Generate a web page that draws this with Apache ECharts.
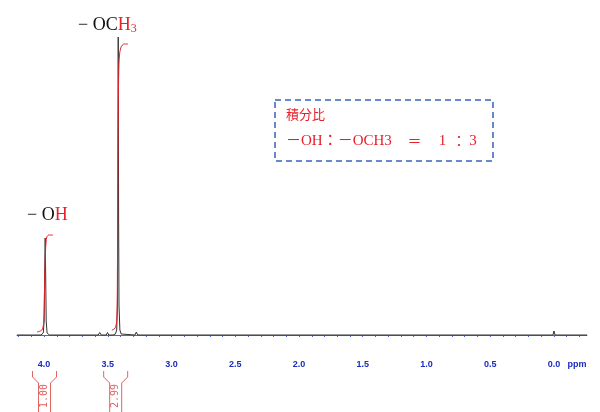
<!DOCTYPE html>
<html><head><meta charset="utf-8">
<script src="https://cdn.jsdelivr.net/npm/echarts@6/dist/echarts.min.js"></script>
<style>html,body{margin:0;padding:0;background:#fff}#c{width:600px;height:412px}</style>
</head><body><div id="c"></div>
<script>
// ---- data ----
const specPpm = [4.212, 4.024, 4.006, 3.999, 3.995, 3.991, 3.987, 3.983, 3.976, 3.958,
  3.575, 3.563, 3.551, 3.512, 3.502, 3.492, 3.46, 3.44, 3.43, 3.424, 3.421, 3.418, 3.415, 3.412, 3.405, 3.395, 3.38,
  3.287, 3.276, 3.265, 0.008, 0.0, -0.008, -0.259];
const specInt = [0, 0, 2, 14, 60, 97, 60, 14, 2, 0,
  0, 2.5, 0, 0, 2.5, 0, 0, 1, 5, 30, 120, 298, 120, 30, 5, 1, 0,
  0, 3, 0, 0, 4, 0, 0];

const ohIntPpm = [4.055, 4.03, 4.012, 4.002, 3.996, 3.99, 3.984, 3.978, 3.97, 3.958, 3.93];
const ohIntVal = [3, 4, 6, 15, 45, 78, 93, 98, 99.5, 100, 100];

const meIntPpm = [3.468, 3.45, 3.436, 3.428, 3.424, 3.421, 3.418, 3.414, 3.408, 3.398, 3.385, 3.37, 3.342];
const meIntVal = [5, 6, 9, 20, 70, 150, 220, 262, 280, 287, 290, 291, 291];

const tickValues = [4.0, 3.5, 3.0, 2.5, 2.0, 1.5, 1.0, 0.5, 0.0];
const tickLabels = ['4.0', '3.5', '3.0', '2.5', '2.0', '1.5', '1.0', '0.5', '0.0'];
const unitPos = -0.18, unitLabel = 'ppm';

const integralCenters = [3.996, 3.438];
const integralLabels = ['1.00', '2.99'];

// ---- chart ----
const minorTicks = [];
for (let i = 42; i >= -2; i--) minorTicks.push(i / 10);

const pair = (xs, ys) => xs.map((x, i) => [x, ys[i]]);
const AX = '#4f63d8';
const RED = '#e8202a';

const chart = echarts.init(document.getElementById('c'));
chart.setOption({
  animation: false,
  backgroundColor: '#fff',
  grid: { left: 17, right: 13, top: 35, bottom: 57, containLabel: false },
  xAxis: {
    type: 'value', inverse: true, min: -0.259, max: 4.212,
    axisLine: { show: true, lineStyle: { color: AX, width: 1 } },
    axisTick: { show: true, customValues: minorTicks, length: 2, lineStyle: { color: AX } },
    axisLabel: {
      customValues: tickValues.concat([unitPos]),
      formatter: v => {
        if (Math.abs(v - unitPos) < 1e-6) return unitLabel;
        const i = tickValues.findIndex(t => Math.abs(t - v) < 1e-6);
        return i >= 0 ? tickLabels[i] : '';
      },
      color: '#1a2bbf', fontSize: 9, fontWeight: 'bold', margin: 5, fontFamily: 'Liberation Sans'
    },
    splitLine: { show: false }
  },
  yAxis: { type: 'value', min: -20, max: 300, show: false },
  series: [
    { type: 'line', data: pair(specPpm, specInt), showSymbol: false, z: 2,
      lineStyle: { color: '#333', width: 1 } },
    { type: 'line', data: pair(ohIntPpm, ohIntVal), showSymbol: false, smooth: 0.4, z: 3,
      lineStyle: { color: RED, width: 1 } },
    { type: 'line', data: pair(meIntPpm, meIntVal), showSymbol: false, smooth: 0.4, z: 3,
      lineStyle: { color: RED, width: 1 } }
  ]
});

// ---- annotations ----
const serif = "'Liberation Serif', 'DejaVu Serif', serif";
const g = [
  { type: 'text', x: 27, y: 215, style: {
      text: '{k|− O}{r|H}', verticalAlign: 'middle',
      rich: { k: { fill: '#111', fontSize: 18, fontFamily: serif }, r: { fill: RED, fontSize: 18, fontFamily: serif } } } },
  { type: 'text', x: 78, y: 25, style: {
      text: '{k|− OC}{r|H}{s|3}', verticalAlign: 'middle',
      rich: { k: { fill: '#111', fontSize: 18, fontFamily: serif, lineHeight: 20 },
              r: { fill: RED, fontSize: 18, fontFamily: serif, lineHeight: 20 },
              s: { fill: RED, fontSize: 12, fontFamily: serif, lineHeight: 12, verticalAlign: 'bottom' } } } },
  { type: 'rect', shape: { x: 275, y: 100, width: 218, height: 61 },
    style: { fill: 'none', stroke: '#3a62c0', lineWidth: 1.5, lineDash: [6, 4] } },
  { type: 'text', x: 286, y: 114, style: { text: '積分比', fill: RED, fontSize: 13, verticalAlign: 'middle',
      fontFamily: "'Noto Sans CJK JP'" } },
  { type: 'text', x: 286, y: 141, style: { text: '－OH：－OCH3', fill: RED, fontSize: 15, verticalAlign: 'middle',
      fontFamily: serif + ", 'Noto Sans CJK JP'" } },
  { type: 'text', x: 414.5, y: 141, style: { text: '＝', fill: RED, fontSize: 14, verticalAlign: 'middle', align: 'center',
      fontFamily: "'Noto Sans CJK JP'" } },
  { type: 'text', x: 442.5, y: 141, style: { text: '1', fill: RED, fontSize: 15, verticalAlign: 'middle', align: 'center',
      fontFamily: serif } },
  { type: 'text', x: 459, y: 141, style: { text: '：', fill: RED, fontSize: 14, verticalAlign: 'middle', align: 'center',
      fontFamily: "'Noto Sans CJK JP'" } },
  { type: 'text', x: 473, y: 141, style: { text: '3', fill: RED, fontSize: 15, verticalAlign: 'middle', align: 'center',
      fontFamily: serif } }
];
const BR = '#e06262';
integralCenters.forEach((ppm, i) => {
  const cx = chart.convertToPixel({ xAxisIndex: 0 }, ppm);
  g.push({ type: 'polyline', shape: { points: [[cx - 12, 371], [cx - 12, 377], [cx - 6, 383], [cx - 6, 412]] },
    style: { stroke: BR, lineWidth: 1, fill: null } });
  g.push({ type: 'polyline', shape: { points: [[cx + 12, 371], [cx + 12, 377], [cx + 6, 383], [cx + 6, 412]] },
    style: { stroke: BR, lineWidth: 1, fill: null } });
  g.push({ type: 'text', x: cx, y: 396, rotation: Math.PI / 2,
    style: { text: integralLabels[i], fill: BR, fontSize: 10, align: 'center', verticalAlign: 'middle',
      fontFamily: "'DejaVu Sans Mono', monospace" } });
});
chart.setOption({ graphic: g });
</script>
</body></html>
